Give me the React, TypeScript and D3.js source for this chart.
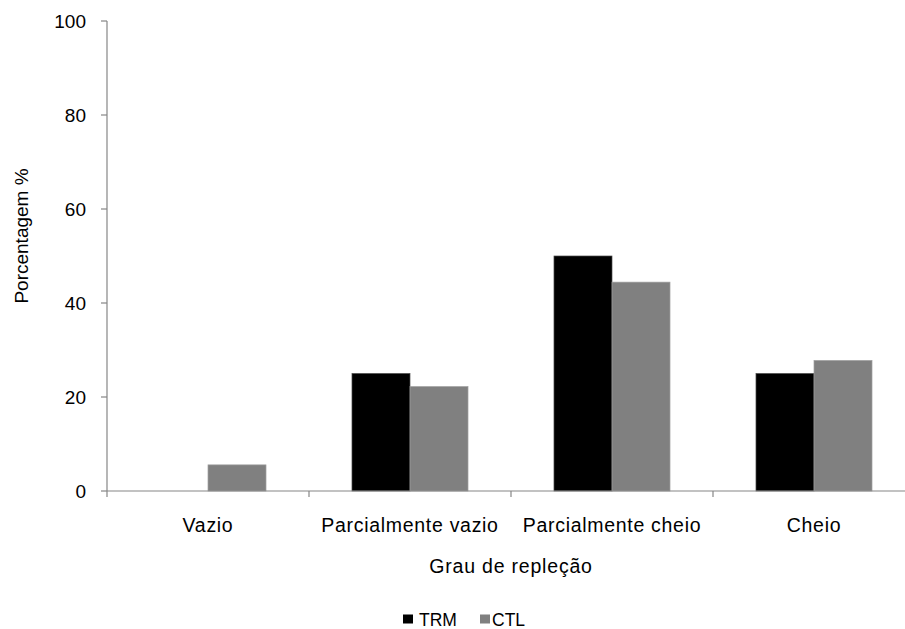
import React from "react";
import * as d3 from "d3";

const categories = ["Vazio", "Parcialmente vazio", "Parcialmente cheio", "Cheio"];
const seriesNames = ["TRM", "CTL"];
const trmValues = [0, 25, 50, 25];
const ctlValues = [5.56, 22.22, 44.44, 27.78];
const yTicks = [0, 20, 40, 60, 80, 100];

const seriesColors: Record<string, string> = { TRM: "#000000", CTL: "#808080" };
const seriesStroke: Record<string, string> = { TRM: "#4a4a4a", CTL: "#a0a0a0" };

const W = 905;
const H = 629;
const axisColor = "#868686";
const font = "'Liberation Sans', Arial, sans-serif";

export default function App() {
  const x = d3.scaleBand<string>().domain(categories).range([107, 915]).paddingInner(0).paddingOuter(0);
  const xs = d3.scaleBand<string>().domain(seriesNames).range([0, x.bandwidth()]).paddingInner(0).paddingOuter(0.741);
  const y = d3.scaleLinear().domain([0, 100]).range([491, 21]);

  const rows = categories.map((c, i) => ({ c, TRM: trmValues[i], CTL: ctlValues[i] }));
  const boundaries = [...categories.map((c) => x(c) as number), 915];

  const legendX: Record<string, number> = { TRM: 403, CTL: 480 };
  const legendGap: Record<string, number> = { TRM: 16, CTL: 12 };

  return (
    <svg
      width={W}
      height={H}
      style={{ position: "absolute", left: 0, top: 0, background: "#fff" }}
      fontFamily={font}
    >
      {/* bars */}
      {rows.map((r) =>
        seriesNames.map((s) => {
          const v = (r as any)[s] as number;
          if (v <= 0) return null;
          return (
            <rect
              key={r.c + s}
              x={(x(r.c) as number) + (xs(s) as number)}
              y={y(v)}
              width={xs.bandwidth()}
              height={y(0) - y(v)}
              fill={seriesColors[s]}
              stroke={seriesStroke[s]}
              strokeWidth={0.7}
            />
          );
        })
      )}

      {/* y axis */}
      <line x1={107} x2={107} y1={y(100)} y2={y(0)} stroke={axisColor} strokeWidth={1.2} />
      {yTicks.map((t) => (
        <g key={t}>
          <line x1={101} x2={107} y1={y(t)} y2={y(t)} stroke={axisColor} strokeWidth={1.2} />
          <text x={86} y={y(t)} dy="0.35em" textAnchor="end" fontSize={19} fill="#000">
            {t}
          </text>
        </g>
      ))}

      {/* x axis */}
      <line x1={107} x2={915} y1={y(0)} y2={y(0)} stroke={axisColor} strokeWidth={1.2} />
      {boundaries.map((b, i) => (
        <line key={i} x1={b} x2={b} y1={y(0)} y2={y(0) + 6} stroke={axisColor} strokeWidth={1.2} />
      ))}
      {categories.map((c) => (
        <text
          key={c}
          x={(x(c) as number) + x.bandwidth() / 2}
          y={531.5}
          textAnchor="middle"
          fontSize={19.5}
          letterSpacing={0.7}
          fill="#000"
        >
          {c}
        </text>
      ))}

      {/* axis titles */}
      <text x={511} y={572.5} textAnchor="middle" fontSize={19.5} letterSpacing={0.8} fill="#000">
        Grau de repleção
      </text>
      <text
        transform={`translate(28.3, 236) rotate(-90)`}
        textAnchor="middle"
        fontSize={19}
        fill="#000"
      >
        Porcentagem %
      </text>

      {/* legend */}
      {seriesNames.map((s) => {
        const lx = legendX[s];
        return (
          <g key={s}>
            <rect x={lx} y={614.5} width={10} height={9} fill={seriesColors[s]} />
            <text x={lx + legendGap[s]} y={625.5} fontSize={17.5} fill="#000">
              {s}
            </text>
          </g>
        );
      })}
    </svg>
  );
}
